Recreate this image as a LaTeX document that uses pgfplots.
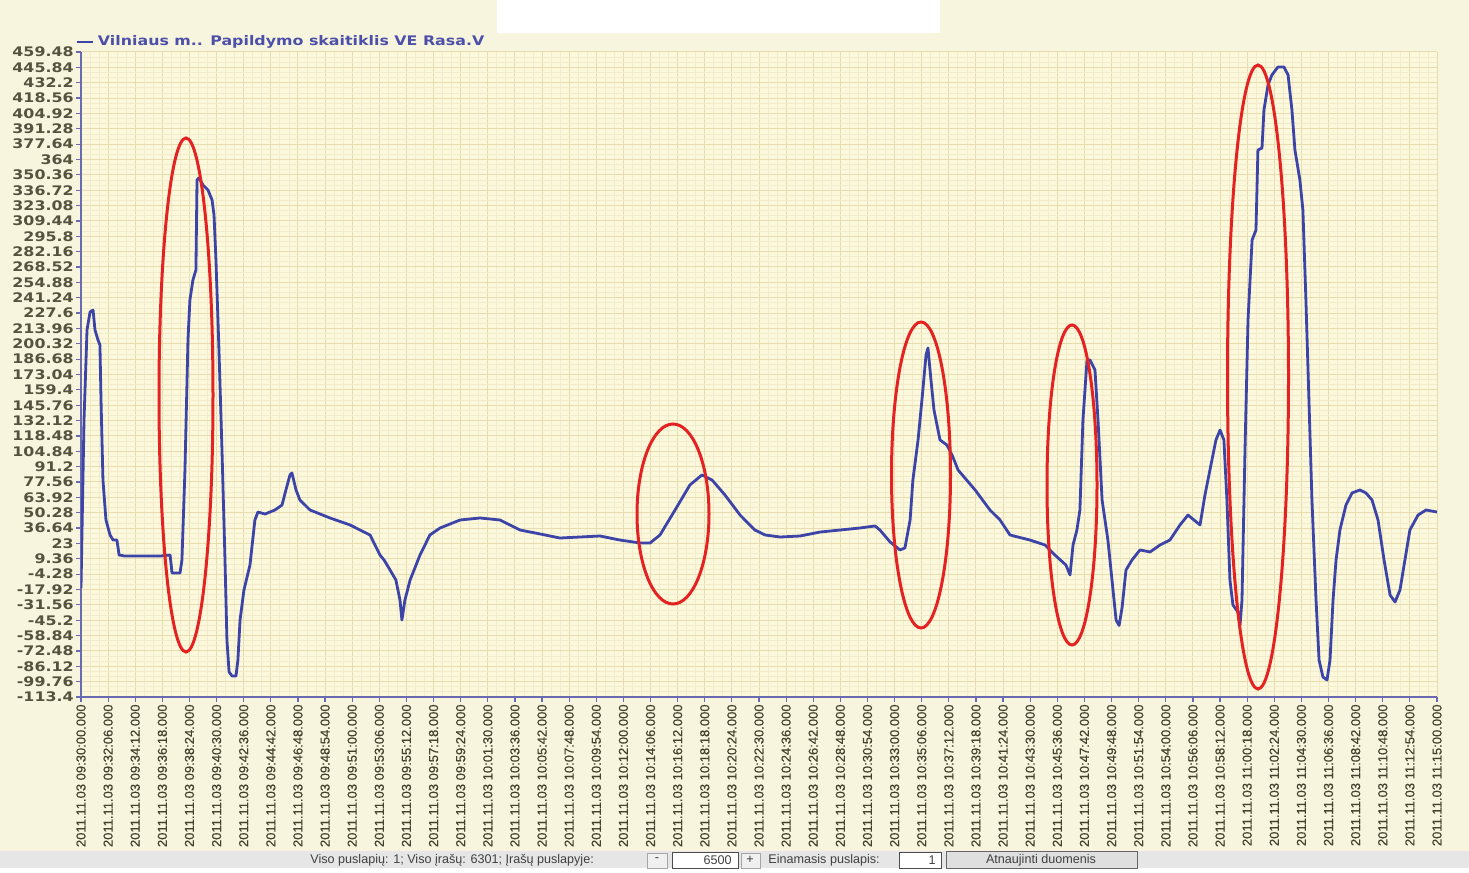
\documentclass[border=0pt]{standalone}
\usepackage{fontspec}
\usepackage{pgfplots}
\pgfplotsset{compat=1.18}
\newfontfamily\vfont{DejaVu Sans Bold}[FakeStretch=1.2]
\newfontfamily\xfont{Liberation Sans}[FakeBold=0.6]
\newfontfamily\barfont{Liberation Sans}
\definecolor{bg}{HTML}{F8F5DE}
\definecolor{plotbg}{HTML}{FBF8DC}
\definecolor{gridmaj}{HTML}{E6DCB0}
\definecolor{gridmin}{HTML}{F2ECCD}
\definecolor{lineblue}{HTML}{3C44A8}
\definecolor{axisblue}{HTML}{6A6AB0}
\definecolor{labgray}{HTML}{55523F}
\definecolor{xlabgray}{HTML}{45432F}
\definecolor{legblue}{HTML}{4C50A8}
\definecolor{annred}{HTML}{E52222}
\definecolor{barbg}{HTML}{E6E6E6}
\newcommand\tl[1]{2011.11.03 #1.000}
\begin{document}
\begin{tikzpicture}
\begin{scope}[x=0.5pt,y=-0.5pt,yshift=434pt]
  \fill[bg] (0,0) rectangle (1469,868);
  \fill[white] (497,0) rectangle (940,33);
  \fill[barbg] (0,851) rectangle (1469,868);
\end{scope}
\begin{axis}[
  at={(40.5pt,85.5pt)}, anchor=south west,
  width=678pt, height=322.5pt, scale only axis,
  xmin=0, xmax=6300, ymin=-113.4, ymax=459.48,
  axis lines=left,
  axis line style={axisblue, line width=0.8pt, -},
  tick style={axisblue, line width=0.6pt},
  major tick length=2.5pt, minor tick length=0pt,
  tick align=outside,
  minor tick num=2,
  grid=both,
  major grid style={gridmaj, line width=0.5pt},
  minor grid style={gridmin, line width=0.4pt},
  axis background/.style={fill=plotbg},
  xtick={0,126,...,6300},
  xticklabels={\tl{09:30:00},\tl{09:32:06},\tl{09:34:12},\tl{09:36:18},\tl{09:38:24},\tl{09:40:30},\tl{09:42:36},\tl{09:44:42},\tl{09:46:48},\tl{09:48:54},\tl{09:51:00},\tl{09:53:06},\tl{09:55:12},\tl{09:57:18},\tl{09:59:24},\tl{10:01:30},\tl{10:03:36},\tl{10:05:42},\tl{10:07:48},\tl{10:09:54},\tl{10:12:00},\tl{10:14:06},\tl{10:16:12},\tl{10:18:18},\tl{10:20:24},\tl{10:22:30},\tl{10:24:36},\tl{10:26:42},\tl{10:28:48},\tl{10:30:54},\tl{10:33:00},\tl{10:35:06},\tl{10:37:12},\tl{10:39:18},\tl{10:41:24},\tl{10:43:30},\tl{10:45:36},\tl{10:47:42},\tl{10:49:48},\tl{10:51:54},\tl{10:54:00},\tl{10:56:06},\tl{10:58:12},\tl{11:00:18},\tl{11:02:24},\tl{11:04:30},\tl{11:06:36},\tl{11:08:42},\tl{11:10:48},\tl{11:12:54},\tl{11:15:00}},
  x tick label style={rotate=90, anchor=east, font=\xfont\fontsize{6.5}{7}\selectfont, text=xlabgray, inner sep=1pt},
  ytick={-113.4,-99.76,-86.12,-72.48,-58.84,-45.2,-31.56,-17.92,-4.28,9.36,23,36.64,50.28,63.92,77.56,91.2,104.84,118.48,132.12,145.76,159.4,173.04,186.68,200.32,213.96,227.6,241.24,254.88,268.52,282.16,295.8,309.44,323.08,336.72,350.36,364,377.64,391.28,404.92,418.56,432.2,445.84,459.48},
  yticklabels={-113.4,-99.76,-86.12,-72.48,-58.84,-45.2,-31.56,-17.92,-4.28,9.36,23,36.64,50.28,63.92,77.56,91.2,104.84,118.48,132.12,145.76,159.4,173.04,186.68,200.32,213.96,227.6,241.24,254.88,268.52,282.16,295.8,309.44,323.08,336.72,350.36,364,377.64,391.28,404.92,418.56,432.2,445.84,459.48},
  y tick label style={font=\vfont\fontsize{6.6}{7}\selectfont, text=labgray, inner sep=1pt},
  legend style={draw=none, fill=none, at={(0,1)}, anchor=south west, xshift=-3pt, yshift=-0.5pt,
    font=\vfont\fontsize{6.6}{8}\selectfont, text=legblue, inner sep=0pt},
  legend cell align=left,
  legend image code/.code={\draw[lineblue, line width=1.3pt] (0pt,0pt) -- (8pt,0pt);},
]
\addplot[lineblue, line width=1.4pt, line join=round] coordinates {
(0,-16.6) (14,132.6) (28,212.6) (42,228.5) (56,230.3) (65,212.6) (79,203.7) (88,199.2)
(93,150.4) (102,79.3) (116,43.8) (135,30.5) (149,26.0) (167,26.0) (177,12.7) (204,11.8)
(274,11.8) (367,11.8) (414,12.7) (423,-3.3) (460,-3.3) (469,8.3) (483,88.2) (497,203.7)
(506,239.2) (520,257.0) (534,265.9) (539,345.8) (548,347.6) (567,341.3) (590,336.9)
(609,328.0) (618,314.7) (627,274.7) (641,194.8) (655,106.0) (669,8.3) (678,-62.8)
(688,-91.2) (702,-94.8) (720,-94.8) (729,-80.5) (739,-45.0) (757,-18.4) (785,3.8)
(808,43.8) (822,50.9) (855,49.1) (901,52.7) (934,57.1) (952,70.5) (971,83.8) (980,85.6)
(999,70.5) (1017,61.6) (1064,52.7) (1157,45.6) (1250,39.4) (1343,30.5) (1366,21.6)
(1389,12.7) (1408,8.3) (1436,-0.6) (1463,-9.5) (1482,-27.3) (1491,-45.0) (1505,-27.3)
(1529,-9.5) (1575,12.7) (1621,30.5) (1668,36.7) (1761,43.8) (1854,45.6) (1947,43.8)
(2040,34.9) (2133,31.4) (2225,27.8) (2318,28.7) (2411,29.6) (2504,26.0) (2597,23.4)
(2644,23.4) (2690,30.5) (2760,52.7) (2829,74.9) (2885,83.8) (2932,79.3) (2992,66.0)
(3062,48.2) (3131,34.9) (3178,30.5) (3248,28.7) (3341,29.6) (3433,33.1) (3526,34.9)
(3619,36.7) (3689,38.5) (3712,34.9) (3759,24.3) (3805,17.2) (3828,19.0) (3852,43.8)
(3865,79.3) (3889,114.9) (3907,150.4) (3926,190.4) (3935,196.6) (3949,168.2) (3963,141.5)
(3991,114.9) (4023,110.4) (4047,101.5) (4075,88.2) (4154,70.5) (4223,52.7) (4270,43.8)
(4316,30.5) (4409,26.0) (4479,21.6) (4525,12.7) (4576,3.8) (4595,-5.0) (4609,21.6)
(4627,34.9) (4641,52.7) (4655,132.6) (4674,185.9) (4688,185.9) (4711,177.0) (4725,132.6)
(4744,61.6) (4771,26.0) (4790,-9.5) (4809,-45.0) (4823,-49.9) (4837,-33.9) (4855,-0.6)
(4883,8.3) (4920,17.2) (4967,15.4) (5013,21.6) (5059,26.0) (5106,39.4) (5143,48.2)
(5171,43.8) (5199,39.4) (5222,66.0) (5245,88.2) (5273,114.9) (5292,123.7) (5310,114.9)
(5324,61.6) (5338,-9.5) (5352,-31.7) (5375,-37.9) (5385,-49.4) (5394,-27.3) (5408,106.0)
(5422,221.4) (5441,292.5) (5459,301.4) (5468,372.4) (5487,374.2) (5496,408.0) (5515,430.2)
(5533,439.1) (5561,446.2) (5589,446.2) (5608,439.1) (5626,408.0) (5640,372.4) (5663,345.8)
(5677,319.1) (5691,239.2) (5705,150.4) (5719,61.6) (5738,-27.3) (5752,-80.5) (5770,-95.6)
(5789,-98.3) (5803,-80.5) (5817,-27.3) (5831,8.3) (5849,34.9) (5877,57.1) (5905,67.8)
(5942,70.5) (5970,67.8) (5998,61.6) (6026,43.8) (6054,8.3) (6082,-22.8) (6105,-29.0)
(6128,-18.4) (6151,8.3) (6174,34.9) (6212,48.2) (6249,52.7) (6300,50.9)
};
\addlegendentry{Vilniaus m.. Papildymo skaitiklis VE Rasa.V}
\end{axis}
\begin{scope}[x=0.5pt,y=-0.5pt,yshift=434pt]
  \draw[annred, line width=1.5pt] (186,395) ellipse [x radius=27, y radius=257];
  \draw[annred, line width=1.5pt] (673,514) ellipse [x radius=36, y radius=90];
  \draw[annred, line width=1.5pt] (921,475) ellipse [x radius=29.5, y radius=153];
  \draw[annred, line width=1.5pt] (1072,485) ellipse [x radius=25, y radius=160];
  \draw[annred, line width=1.5pt] (1258,377) ellipse [x radius=30.5, y radius=312];
  \begin{scope}[font=\barfont\fontsize{6.3}{7}\selectfont, text=black!75]
    \node[anchor=west, inner sep=0pt] at (310,860) {Viso puslapių: 1; Viso įrašų: 6301; Įrašų puslapyje:};
    \draw[gray!70, fill=gray!12] (647,853) rectangle (667,868);
    \node at (657,860) {-};
    \draw[black!70, fill=white] (672,852) rectangle (738,868);
    \node[anchor=east, inner sep=0pt] at (732,860) {6500};
    \draw[gray!70, fill=gray!12] (741,853) rectangle (760,868);
    \node at (750,860) {+};
    \node[anchor=west, inner sep=0pt] at (768,860) {Einamasis puslapis:};
    \draw[black!70, fill=white] (899,852) rectangle (941,868);
    \node[anchor=east, inner sep=0pt] at (936,860) {1};
    \draw[black!60, fill=gray!25] (946,851) rectangle (1137,868);
    \node at (1041,860) {Atnaujinti duomenis};
  \end{scope}
\end{scope}
\useasboundingbox[x=0.5pt,y=-0.5pt,yshift=434pt] (0,0) rectangle (1469,868);
\end{tikzpicture}
\end{document}
